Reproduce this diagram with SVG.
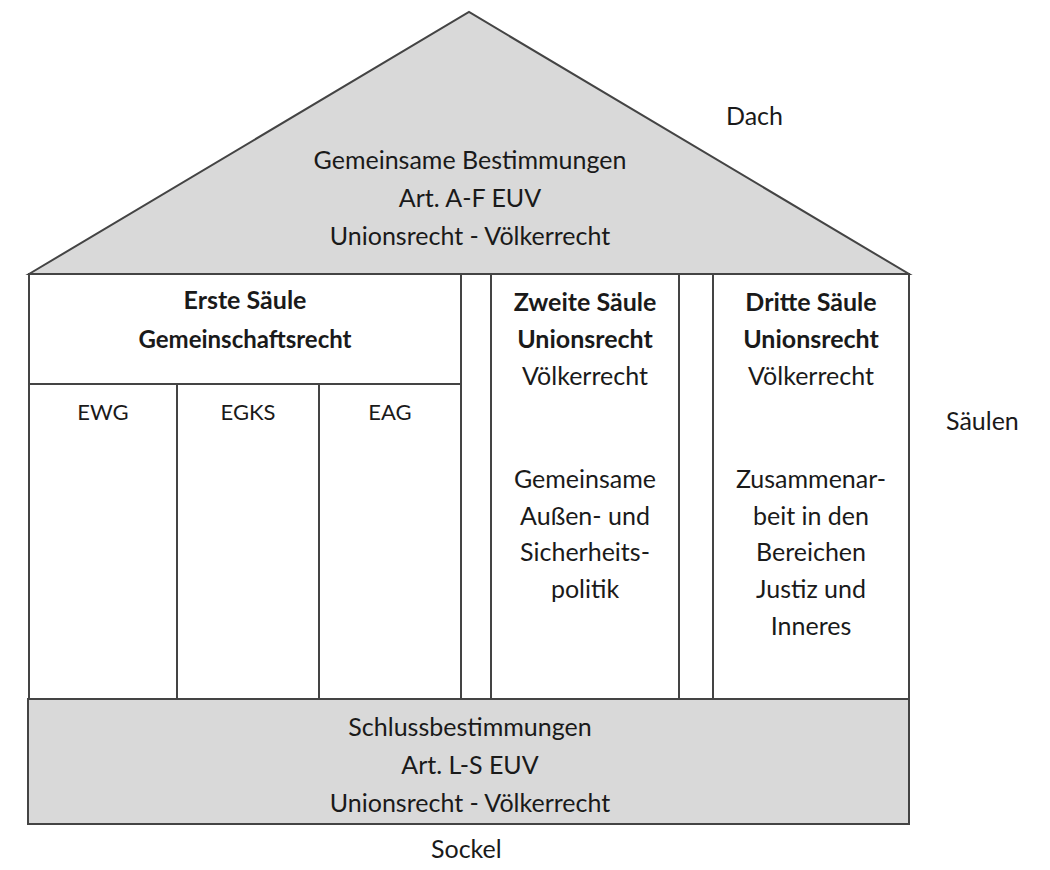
<svg xmlns="http://www.w3.org/2000/svg" width="1050" height="870" viewBox="0 0 1050 870">
<style>
.ln{stroke:#444444;stroke-width:2;fill:none}
.gr{fill:#d9d9d9;stroke:#444444;stroke-width:2}
.wh{fill:#ffffff;stroke:#444444;stroke-width:2}
text{font-family:Lato,"Open Sans","Liberation Sans",sans-serif;fill:#1a1a1a;text-anchor:middle;font-size:25px}
.b{font-weight:bold}
.s{font-size:22px}
.lab{text-anchor:start}
</style>
<rect width="1050" height="870" fill="#ffffff"/>
<g id="dach">
<polygon class="gr" points="29,274 469,12 909,274"/>
<text x="470" y="169">Gemeinsame Bestimmungen</text>
<text x="470" y="207">Art. A-F EUV</text>
<text x="470" y="245">Unionsrecht - Völkerrecht</text>
</g>
<g id="erste-saeule">
<rect class="wh" x="29" y="274" width="432" height="425"/>
<line class="ln" x1="29" y1="384" x2="461" y2="384"/>
<line class="ln" x1="177" y1="384" x2="177" y2="699"/>
<line class="ln" x1="319" y1="384" x2="319" y2="699"/>
<text class="b" x="245" y="309">Erste Säule</text>
<text class="b" x="245" y="348" style="font-size:24px">Gemeinschaftsrecht</text>
<text class="s" x="103" y="420">EWG</text>
<text class="s" x="248" y="420">EGKS</text>
<text class="s" x="390" y="420">EAG</text>
</g>
<g id="gap1">
<rect class="wh" x="461" y="274" width="30" height="425"/>
</g>
<g id="zweite-saeule">
<rect class="wh" x="491" y="274" width="188" height="425"/>
<text class="b" x="585" y="311">Zweite Säule</text>
<text class="b" x="585" y="348">Unionsrecht</text>
<text x="585" y="385">Völkerrecht</text>
<text x="585" y="488">Gemeinsame</text>
<text x="585" y="525">Außen- und</text>
<text x="585" y="561">Sicherheits-</text>
<text x="585" y="598">politik</text>
</g>
<g id="gap2">
<rect class="wh" x="679" y="274" width="34" height="425"/>
</g>
<g id="dritte-saeule">
<rect class="wh" x="713" y="274" width="196" height="425"/>
<text class="b" x="811" y="311">Dritte Säule</text>
<text class="b" x="811" y="348">Unionsrecht</text>
<text x="811" y="385">Völkerrecht</text>
<text x="811" y="488">Zusammenar-</text>
<text x="811" y="525">beit in den</text>
<text x="811" y="561">Bereichen</text>
<text x="811" y="598">Justiz und</text>
<text x="811" y="635">Inneres</text>
</g>
<g id="sockel">
<rect class="gr" x="28" y="699" width="881" height="125"/>
<text x="470" y="736">Schlussbestimmungen</text>
<text x="470" y="774">Art. L-S EUV</text>
<text x="470" y="812">Unionsrecht - Völkerrecht</text>
</g>
<g id="labels">
<text class="lab" x="726" y="125">Dach</text>
<text class="lab" x="946" y="430">Säulen</text>
<text class="lab" x="431" y="858">Sockel</text>
</g>
<g id="connectors"></g>
</svg>
